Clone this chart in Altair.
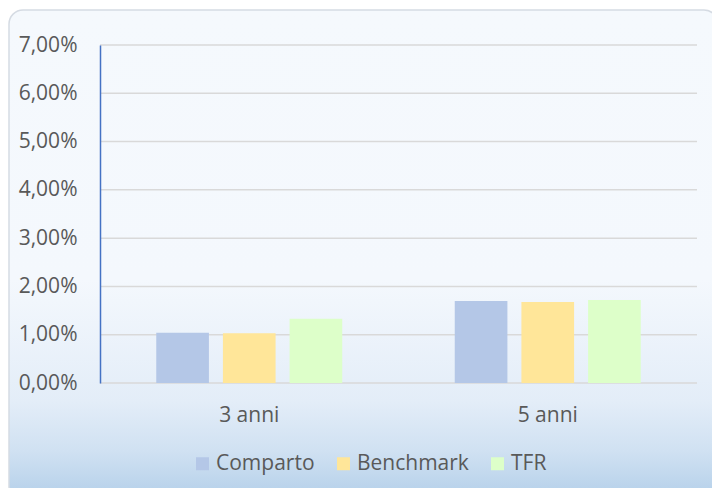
import altair as alt
import pandas as pd

categories = ["3 anni", "5 anni"]
series = ["Comparto", "Benchmark", "TFR"]
comparto = [1.04, 1.70]
benchmark = [1.03, 1.68]
tfr = [1.33, 1.72]
colors = ["#b4c7e7", "#ffe699", "#ddffc9"]
y_ticks = [0, 0.01, 0.02, 0.03, 0.04, 0.05, 0.06, 0.07]

rows = []
for name, vals in zip(series, [comparto, benchmark, tfr]):
    for c, v in zip(categories, vals):
        rows.append({"periodo": c, "serie": name, "valore": v / 100})
df = pd.DataFrame(rows)
grid_df = pd.DataFrame({"valore": y_ticks})

FONT = "Open Sans"
TXT = "#595959"
yscale = alt.Scale(domain=[0, 0.07], nice=False)
yaxis = alt.Axis(title=None, values=y_ticks,
                 labelExpr="replace(format(datum.value, '.2%'), '.', ',')",
                 ticks=False, tickSize=0, labelPadding=23,
                 labelFont=FONT, labelFontSize=21, labelColor=TXT,
                 domainColor="#4472c4", domainWidth=1.5,
                 grid=False, zindex=1)

bg = alt.Chart(alt.Data(values=[{"a": 1}])).mark_rect(
    fill=alt.Gradient(
        gradient="linear",
        stops=[
            alt.GradientStop(color="#f5f9fd", offset=0),
            alt.GradientStop(color="#f4f8fd", offset=0.55),
            alt.GradientStop(color="#e3edf8", offset=0.8),
            alt.GradientStop(color="#d0e1f2", offset=0.9),
            alt.GradientStop(color="#b3cfe9", offset=1),
        ],
        x1=0, x2=0, y1=0, y2=1,
    ),
    stroke="#d5dbe3",
    strokeWidth=1.5,
    cornerRadius=14,
).encode(
    x=alt.value(-91), x2=alt.value(618),
    y=alt.value(-35), y2=alt.value(455),
)

grid = alt.Chart(grid_df).mark_rule(color="#d9d9d9", strokeWidth=1.5).encode(
    y=alt.Y("valore:Q", scale=yscale, axis=yaxis),
    x=alt.value(0), x2=alt.value(597),
)

bars = alt.Chart(df).mark_bar().encode(
    x=alt.X("periodo:N", sort=categories,
            scale=alt.Scale(paddingInner=0.33, paddingOuter=0.165),
            axis=alt.Axis(title=None, labelAngle=0, domain=False, ticks=False,
                          tickSize=0, labelPadding=21, labelFont=FONT,
                          labelFontSize=21, labelColor=TXT, grid=False,
                          zindex=1)),
    xOffset=alt.XOffset("serie:N", sort=series,
                        scale=alt.Scale(paddingInner=0.21, paddingOuter=0.105)),
    y=alt.Y("valore:Q", scale=yscale, axis=yaxis),
    color=alt.Color("serie:N", sort=series,
                    scale=alt.Scale(domain=series, range=colors),
                    legend=alt.Legend(title=None, orient="none",
                                      legendX=92, legendY=408,
                                      direction="horizontal",
                                      symbolType="square", symbolSize=169,
                                      symbolStrokeWidth=0, labelOffset=3,
                                      columnPadding=18,
                                      labelFont=FONT, labelFontSize=21,
                                      labelColor=TXT)),
)

chart = alt.layer(bg, grid, bars).properties(
    width=597, height=338,
    autosize=alt.AutoSizeParams(type="none"),
    padding={"left": 92, "top": 37, "right": 15, "bottom": 105},
).configure_view(stroke=None).configure(background="white")

chart.save("out.html", embed_options={"renderer": "svg", "actions": False})
